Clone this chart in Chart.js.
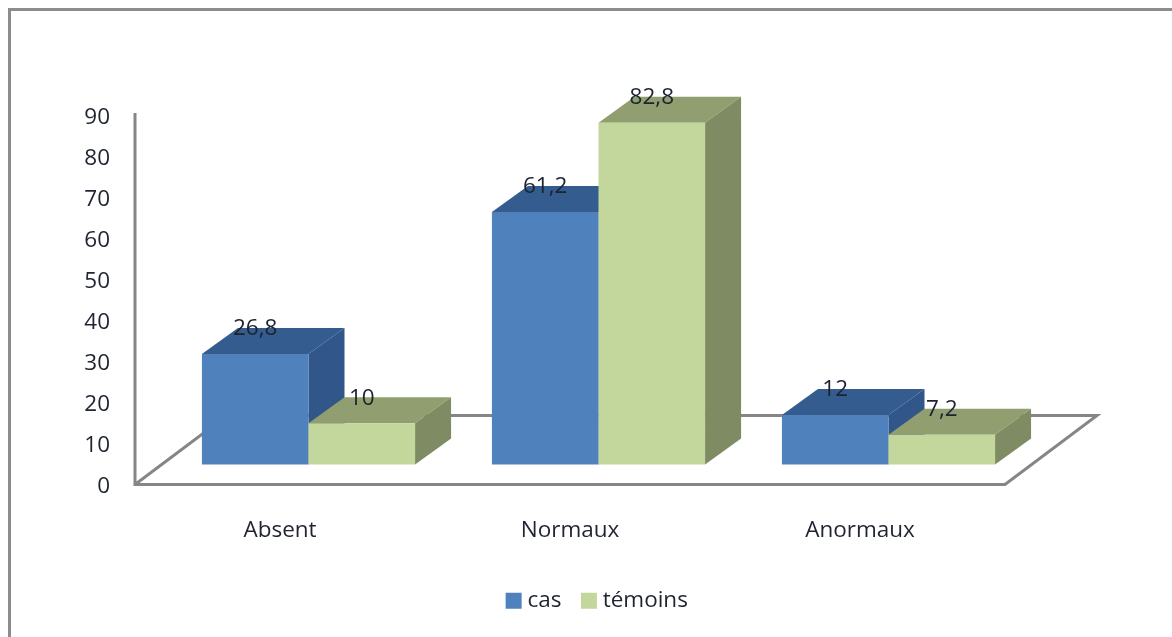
<!DOCTYPE html>
<html>
<head>
<meta charset="utf-8">
<style>
  html, body { margin: 0; padding: 0; background: #fff; }
  #wrap { position: relative; width: 1172px; height: 637px; overflow: hidden; }
  #frame { position: absolute; left: 8px; top: 8px; width: 1300px; height: 800px; border: 3px solid #8c8c8c; box-sizing: border-box; }
  canvas { position: absolute; left: 0; top: 0; }
</style>
<script src="https://cdn.jsdelivr.net/npm/chart.js@4"></script>
</head>
<body>
<div id="wrap">
  <div id="frame"></div>
  <canvas id="chart" width="1172" height="637"></canvas>
</div>
<script>
const categories = ['Absent', 'Normaux', 'Anormaux'];
const casValues = [26.8, 61.2, 12];
const temoinsValues = [10, 82.8, 7.2];
const yTickValues = [0, 10, 20, 30, 40, 50, 60, 70, 80, 90];

const AXIS_COLOR = '#868686';
const TEXT_COLOR = '#1f2430';
const FONT = '"Open Sans", sans-serif';
const FONT_SIZE = 22.5;

// Oblique projection of the floor and of each column's depth
const FLOOR_DX = 92, FLOOR_DY = -69;
const PLANE_DX = 28.5, PLANE_DY = -20;
const BAR_DX = 36, BAR_DY = -26;

function polygon(ctx, pts, fill) {
  ctx.beginPath();
  pts.forEach((p, i) => i ? ctx.lineTo(p[0], p[1]) : ctx.moveTo(p[0], p[1]));
  ctx.closePath();
  ctx.fillStyle = fill;
  ctx.fill();
}

const perspective3d = {
  id: 'perspective3d',
  afterLayout(chart) {
    // Legend sits centred under the floor rather than under the canvas
    const lg = chart.legend;
    lg.left += 67; lg.right += 67;
    lg.top -= 5; lg.bottom -= 5;
  },
  beforeDatasetsDraw(chart) {
    const { ctx, chartArea: a } = chart;
    ctx.save();
    ctx.strokeStyle = AXIS_COLOR;
    ctx.lineWidth = 3;
    ctx.lineJoin = 'miter';
    ctx.beginPath();
    ctx.moveTo(a.left, a.top - 3);
    ctx.lineTo(a.left, a.bottom);
    ctx.lineTo(a.right, a.bottom);
    ctx.lineTo(a.right + FLOOR_DX, a.bottom + FLOOR_DY);
    ctx.lineTo(a.left + FLOOR_DX, a.bottom + FLOOR_DY);
    ctx.lineTo(a.left, a.bottom);
    ctx.stroke();
    ctx.restore();

    // Columns stand on a plane set back from the front edge of the floor.
    // Painted left to right so each series overlaps the side of the previous one.
    ctx.save();
    ctx.translate(PLANE_DX, PLANE_DY);
    chart.data.datasets.forEach((ds, i) => {
      const meta = chart.getDatasetMeta(i);
      meta.data.forEach(bar => {
        const { x, y, base, width } = bar.getProps(['x', 'y', 'base', 'width'], true);
        const l = x - width / 2, r = x + width / 2;
        polygon(ctx, [[l, y], [r, y], [r + BAR_DX, y + BAR_DY], [l + BAR_DX, y + BAR_DY]], ds.topColor);
        polygon(ctx, [[r, y], [r + BAR_DX, y + BAR_DY], [r + BAR_DX, base + BAR_DY], [r, base]], ds.sideColor);
      });
      meta.controller.draw();
    });
    ctx.restore();
  },
  beforeDatasetDraw() {
    // Already painted in beforeDatasetsDraw
    return false;
  },
  afterDatasetsDraw(chart) {
    const { ctx } = chart;
    ctx.save();
    ctx.translate(PLANE_DX, PLANE_DY);
    ctx.font = FONT_SIZE + 'px ' + FONT;
    ctx.fillStyle = '#1b2230';
    ctx.textAlign = 'center';
    ctx.textBaseline = 'middle';
    chart.data.datasets.forEach((ds, i) => {
      chart.getDatasetMeta(i).data.forEach((bar, j) => {
        ctx.fillText(String(ds.data[j]).replace('.', ','), bar.x, bar.y - 25);
      });
    });
    ctx.restore();
  }
};

new Chart(document.getElementById('chart'), {
  type: 'bar',
  data: {
    labels: categories,
    datasets: [
      { label: 'cas', data: casValues, yAxisID: 'yBars',
        backgroundColor: '#4f81bd', topColor: '#355c8e', sideColor: '#30568a' },
      { label: 'témoins', data: temoinsValues, yAxisID: 'yBars',
        backgroundColor: '#c3d69b', topColor: '#919f70', sideColor: '#7f8b62' }
    ]
  },
  options: {
    responsive: false,
    animation: false,
    events: [],
    layout: { padding: { left: 60, right: 167, top: 116, bottom: 10 } },
    datasets: { bar: { categoryPercentage: 0.735, barPercentage: 1, borderWidth: 0 } },
    scales: {
      x: {
        grid: { display: false },
        border: { display: false },
        ticks: { color: TEXT_COLOR, padding: 25, font: { family: FONT, size: FONT_SIZE }, maxRotation: 0 }
      },
      y: {
        min: 0, max: 90,
        afterBuildTicks(axis) { axis.ticks = yTickValues.map(value => ({ value })); },
        afterFit(axis) { axis.width = 75; },
        grid: { display: false, drawTicks: false },
        border: { display: false },
        ticks: { color: TEXT_COLOR, padding: 25, labelOffset: 2, font: { family: FONT, size: FONT_SIZE } }
      },
      // Same columns on the recessed plane, where units come out slightly larger
      yBars: { display: false, min: 0, max: 89.3 }
    },
    plugins: {
      tooltip: { enabled: false },
      legend: {
        position: 'bottom',
        labels: {
          // Small core box with a wide stroke keeps the swatch close to its text
          boxWidth: 5, boxHeight: 5, padding: 25,
          color: TEXT_COLOR,
          font: { family: FONT, size: FONT_SIZE },
          generateLabels: chart => chart.data.datasets.map((ds, i) => ({
            text: ds.label, datasetIndex: i, fontColor: TEXT_COLOR,
            fillStyle: ds.backgroundColor, strokeStyle: ds.backgroundColor, lineWidth: 11
          }))
        }
      }
    }
  },
  plugins: [perspective3d]
});
</script>
</body>
</html>
